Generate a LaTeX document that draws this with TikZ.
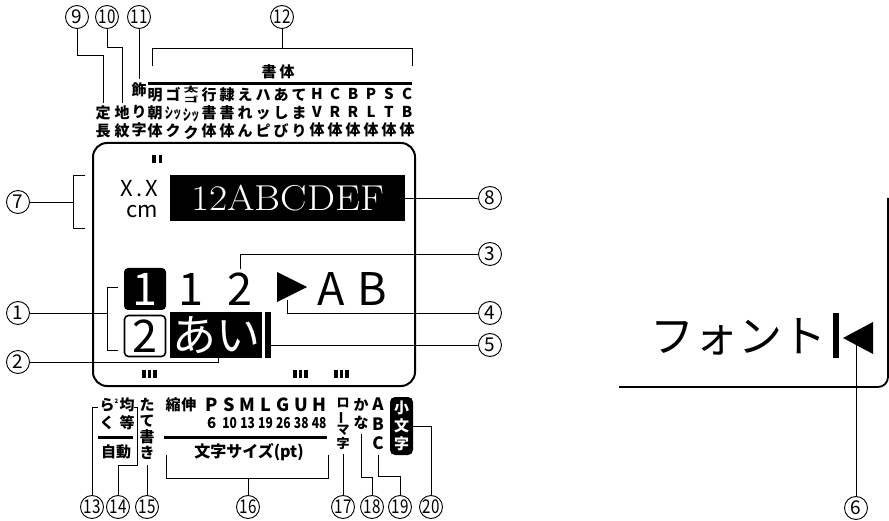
\documentclass[tikz,border=0pt]{standalone}
\usepackage{fontspec}
\usepackage{graphicx}
\newfontfamily\jp{Noto Sans CJK JP}
\usetikzlibrary{positioning}
\newcommand{\nar}[1]{\scalebox{0.8}[1]{#1}}
\newcommand{\sq}[1]{\scalebox{0.55}[1]{#1}}
\newcommand{\sz}[1]{\makebox[17.9pt]{#1}}
\newcommand{\futogo}{\scalebox{1}[0.5]{\begin{tabular}[b]{@{}c@{}}太\\ゴ\end{tabular}}}
\tikzset{
  num/.style={circle,draw,line width=0.9pt,minimum size=23pt,inner sep=0pt,
    font=\jp\fontsize{19}{19}\selectfont},
  lead/.style={line width=0.9pt},
  lbl/.style={inner sep=0pt,align=center,font=\jp\bfseries\fontsize{15}{18}\selectfont},
  lcd/.style={inner sep=0pt,font=\jp\fontsize{45}{45}\selectfont},
  blk/.style={fill=black,text=white,inner sep=0pt},
  rule/.style={line width=3pt}
}
\begin{document}
\begin{tikzpicture}[x=1pt,y=-1pt]
\useasboundingbox (0,0) rectangle (889,521);
% circled numbers
\node[num] (c1) at (18,313) {1};
\node[num] (c2) at (18,362) {2};
\node[num] (c3) at (490,254) {3};
\node[num] (c4) at (490,313) {4};
\node[num] (c5) at (490,345) {5};
\node[num] (c6) at (856,508) {6};
\node[num] (c7) at (18,202) {7};
\node[num] (c8) at (490,198) {8};
\node[num] (c9) at (77,17) {9};
\node[num] (c10) at (107,17) {\nar{10}};
\node[num] (c11) at (139,17) {\nar{11}};
\node[num] (c12) at (282,17) {\nar{12}};
\node[num] (c13) at (92,507) {\nar{13}};
\node[num] (c14) at (118,507) {\nar{14}};
\node[num] (c15) at (147,507) {\nar{15}};
\node[num] (c16) at (248,507) {\nar{16}};
\node[num] (c17) at (343,507) {\nar{17}};
\node[num] (c18) at (372,507) {\nar{18}};
\node[num] (c19) at (400,507) {\nar{19}};
\node[num] (c20) at (431,507) {\nar{20}};
% top labels
\node[lbl] (teicho) at (103,122) {定\\長};
\node[lbl] (jimon) at (122,122) {地\\紋};
\node[lbl] (kazari) at (139,110) {飾\\[4pt]り\\字};
\node[lbl] (mincho) at (155,113) {明\\朝\\体};
\node[lbl] (gothic) at (173,113) {ゴ\\\sq{シッ}\\ク};
\node[lbl] (futo) at (191,113) {\futogo\\\sq{シッ}\\ク};
\node[lbl] (gyosho) at (209,113) {行\\書\\体};
\node[lbl] (reisho) at (227,113) {隷\\書\\体};
\node[lbl] (eren) at (245,113) {え\\れ\\ん};
\node[lbl] (happi) at (263,113) {ハ\\ッ\\ピ};
\node[lbl] (ashibi) at (281,113) {あ\\し\\び};
\node[lbl] (temari) at (299,113) {て\\ま\\り};
\node[lbl] (hv) at (317,113) {H\\V\\体};
\node[lbl] (cr) at (335,113) {C\\R\\体};
\node[lbl] (br) at (353,113) {B\\R\\体};
\node[lbl] (pl) at (371,113) {P\\L\\体};
\node[lbl] (st) at (389,113) {S\\T\\体};
\node[lbl] (cb) at (407,113) {C\\B\\体};
\node[lbl] (shotai) at (278,72) {書\hspace{3pt}体};
\draw[rule] (148,83.5) -- (412,83.5);
\draw[lead] (c9) -- ++(0,38) -| ([yshift=3pt]teicho.north);
\draw[lead] (c10) -- ++(0,30) -| ([yshift=3pt]jimon.north);
\draw[lead] (c11) -- ([yshift=4pt]kazari.north);
\draw[lead] (c12) -- (282,48);
\draw[lead] (152,66) |- (412,48) -- (412,66);
% display
\draw[line width=2pt,rounded corners=14pt] (93,143) rectangle (415,386);
\fill (152,155) rectangle (155.5,163);
\fill (158.5,155) rectangle (162,163);
\fill (142,370) rectangle (145.5,378);
\fill (147.5,370) rectangle (151,378);
\fill (153,370) rectangle (156.5,378);
\fill (293,370) rectangle (296.5,378);
\fill (298.5,370) rectangle (302,378);
\fill (304,370) rectangle (307.5,378);
\fill (334,370) rectangle (337.5,378);
\fill (339.5,370) rectangle (343,378);
\fill (345,370) rectangle (348.5,378);
\node[inner sep=0pt,anchor=east,font=\jp\fontsize{22}{22}\selectfont] (xx) at (158,189) {X\kern3pt.\kern3pt X};
\node[inner sep=0pt,anchor=east,font=\jp\fontsize{22}{22}\selectfont] (cm) at (158,212) {cm};
\node[blk,minimum width=235pt,minimum height=46pt,font=\fontsize{36}{36}\selectfont] (lenbox) at (287.5,198) {\scalebox{1.1}[1]{12ABCDEF}};
\draw[lead] (lenbox) -- (c8);
\draw[lead] (c7) -- (73,202);
\draw[lead] (85,175) -| (73,228) -- (85,228);
\node[blk,rounded corners=4pt,minimum size=42pt,font=\jp\fontsize{45}{45}\selectfont] (sel1) at (145,289) {1};
\node[draw,line width=1.6pt,rounded corners=4pt,minimum size=41pt,inner sep=0pt,font=\jp\fontsize{45}{45}\selectfont] (sel2) at (145,336) {2};
\draw[lead] (c1) -- (107,313);
\draw[lead] (118,287) -| (107,350) -- (118,350);
\node[lcd] (one) at (191,289) {1};
\node[lcd] (two) at (240,289) {2};
\node[lcd] (la) at (331,289) {A};
\node[lcd] (lb) at (372,289) {B};
\fill (277,272) -- (307,287) -- (277,302) -- cycle;
\coordinate (play) at (287,300);
\draw[lead] ([yshift=3pt]two.north) |- (c3);
\draw[lead] (play) |- (c4);
\node[blk,minimum width=92pt,minimum height=46pt,font=\jp\fontsize{44}{44}\selectfont] (aibox) at (216,335) {あい};
\node[fill=black,minimum width=6pt,minimum height=46pt,inner sep=0pt] (cur) at (268,335) {};
\draw[lead] (cur.east |- c5) -- (c5);
\draw[lead] (c2) -| ([xshift=2pt]aibox.south);
% bottom labels
\node[lbl] (raku) at (107,414) {ら\rlap{\raisebox{7pt}{\fontsize{6}{6}\selectfont 2}}\\く};
\node[lbl] (kinto) at (127,414) {均\\等};
\draw[rule] (98,437) -- (133,437);
\node[lbl] (jido) at (116,452) {自動};
\draw[lead] (c13) |- (98,407);
\draw[lead] (c14) |- (137,465) -- (137,407) -- (134,407);
\node[lbl,font=\jp\bfseries\fontsize{15}{16}\selectfont] (tategaki) at (147,429) {た\\て\\書\\き};
\draw[lead] (c15) -- ([yshift=-5pt]tategaki.south);
\node[lbl] (shukushin) at (181,405) {縮\hspace{1pt}伸};
\node[lbl,font=\jp\bfseries\fontsize{18}{18}\selectfont] (sizeab) at (265.5,405) {\sz{P}\sz{S}\sz{M}\sz{L}\sz{G}\sz{U}\sz{H}};
\node[lbl,font=\jp\bfseries\fontsize{15}{15}\selectfont] (sizept) at (265.5,423) {\sz{6}\sz{\nar{10}}\sz{\nar{13}}\sz{\nar{19}}\sz{\nar{26}}\sz{\nar{38}}\sz{\nar{48}}};
\draw[rule] (164,437) -- (327,437);
\node[lbl,font=\jp\bfseries\fontsize{16}{16}\selectfont] (mojisize) at (249,452) {文字サイズ(pt)};
\draw[lead] (166,455) |- (328,478) -- (328,455);
\draw[lead] (c16) -- (248,478);
\node[lbl,font=\jp\bfseries\fontsize{13}{13.5}\selectfont] (romaji) at (343,424) {ロ\\\rotatebox[origin=c]{90}{ー}\\マ\\字};
\draw[lead] (c17) -- ([yshift=-4pt]romaji.south);
\node[lbl] (kanalbl) at (361,414) {か\\な};
\draw[lead] ([yshift=-4pt]kanalbl.south) -- ++(0,44) -| (c18);
\node[lbl,font=\jp\bfseries\fontsize{17}{19.5}\selectfont] (abc) at (378,424) {A\\B\\C};
\draw[lead] ([yshift=-5pt]abc.south) -- ++(0,21) -| (c19);
\node[blk,rounded corners=5pt,minimum width=23pt,minimum height=58pt,align=center,font=\jp\bfseries\fontsize{15}{18}\selectfont] (komoji) at (401.5,426) {小\\文\\字};
\draw[lead] (komoji.east) -| (c20);
% right part
\draw[line width=1.8pt,rounded corners=10pt] (619,387) -| (888,198);
\node[inner sep=0pt,font=\jp\fontsize{44}{44}\selectfont] (fontlbl) at (738,337) {フォント};
\node[fill=black,minimum width=6pt,minimum height=45pt,inner sep=0pt] (cur2) at (836,335.5) {};
\fill (843,338) -- (873,322) -- (873,354) -- cycle;
\coordinate (back) at (856,342);
\draw[lead] (back) -- (c6);
\end{tikzpicture}
\end{document}
